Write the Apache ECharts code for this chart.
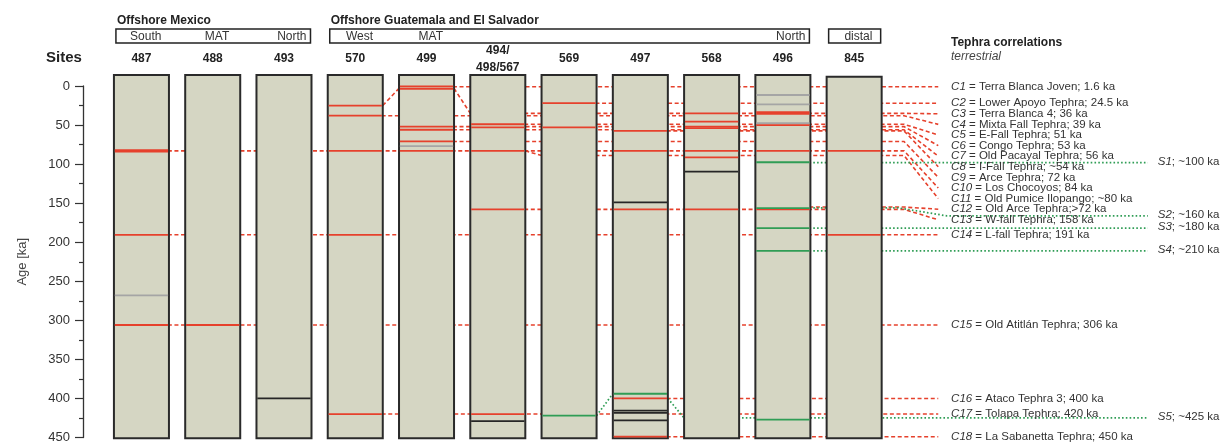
<!DOCTYPE html>
<html><head><meta charset="utf-8">
<script src="https://cdn.jsdelivr.net/npm/echarts@6/dist/echarts.min.js"></script>
<style>html,body{margin:0;padding:0;background:#fff}#c{width:1225px;height:444px}</style>
</head><body><div id="c"></div>
<script>
// ---------------- DATA ----------------
const sites = ['487','488','493','570','499','494/\n498/567','569','497','568','496','845'];
const regions = [['Offshore Mexico',0,2],['Offshore Guatemala and El Salvador',3,9]];
const subRegions = [['South',0,'c'],['MAT',1,'c'],['North',2,'r'],['West',3,'c'],['MAT',4,'c'],['North',9,'r'],['distal',10,'c']];
const subBoxes = [[0,2],[3,9],[10,10]];
const ageTicks = [0,50,100,150,200,250,300,350,400,450];

// tephra layers in cores: [siteIndex, age ka]
const redLayers = [[0,82],[0,84],[0,190.5],[0,306],[1,306],
  [3,25],[3,38],[3,83],[3,190.5],[3,420],
  [4,0.5],[4,3.5],[4,52],[4,56],[4,71],[4,83],
  [5,49],[5,53],[5,83],[5,158],[5,420],
  [6,22],[6,53],
  [7,57.5],[7,83],[7,158],[7,400],[7,449],
  [8,35],[8,45.5],[8,52],[8,54],[8,83],[8,91.5],[8,158],
  [9,33.5],[9,35.5],[9,50],[9,83],[9,158],
  [10,83],[10,190.5]];
const grayLayers = [[0,268],[4,77],[9,11.5],[9,23.4],[9,47.7]];
const greenLayers = [[6,422],[7,394],[9,97.6],[9,156.4],[9,182],[9,211],[9,427]];
const blackLayers = [[2,400],[5,429],[7,149],[7,415.5],[7,418.5],[7,428],[8,109.5]];

// terrestrial tephra correlations
const corrIds = ['C1','C2','C3','C4','C5','C6','C7','C8','C9','C10','C11','C12','C13','C14','C15','C16','C17','C18'];
const corrNames = ['Terra Blanca Joven; 1.6 ka','Lower Apoyo Tephra; 24.5 ka','Terra Blanca 4; 36 ka','Mixta Fall Tephra; 39 ka',
  'E-Fall Tephra; 51 ka','Congo Tephra; 53 ka','Old Pacayal Tephra; 56 ka','I-Fall Tephra; ~54 ka','Arce Tephra; 72 ka',
  'Los Chocoyos; 84 ka','Old Pumice Ilopango; ~80 ka','Old Arce Tephra;>72 ka','W-fall Tephra; 158 ka','L-fall Tephra; 191 ka',
  'Old Atitlán Tephra; 306 ka','Ataco Tephra 3; 400 ka','Tolapa Tephra; 420 ka','La Sabanetta Tephra; 450 ka'];
const corrAges = [1,22,35,38,49,52,56,57.5,71,83,89,155,158,190.5,306,400,420,449];
const corrFromSite = [4,6,5,3,5,4,4,7,4,0,6,9,5,0,0,7,3,7];
// sloping red links: [fromSite, fromAge, toSite, toAge]
const redLinks = [[3,25,4,3],[4,3,5,35],[5,83,6,89]];

// marine (site) correlations
const stratIds = ['S1','S2','S3','S4','S5'];
const stratNames = ['~100 ka','~160 ka','~180 ka','~210 ka','~425 ka'];
const stratAges = [98,156,182,211,425];
const stratFromSite = [9,9,9,9,8];
const greenLinks = [[6,422,7,394],[7,400,8,425]];

// ---------------- LAYOUT / STYLE ----------------
const HALF = 0.386, CORE_TOP = -14, CORE_BOT = 451;
const BEND_X = 10.70, LEAD_X = 11.18, LABEL_X = 11.36, S_END_X = 14.12, S_LABEL_X = 14.26;
const ROW_GAP = 10.6;
const RED = '#e6412c', GREEN = '#2f9d55', GRAY = '#a5a5a5', BLACK = '#262626', FILL = '#d5d6c3';
const FONT = '"Liberation Sans", Arial, sans-serif';
const TXT = '#333';

function corrRows(api){
  const rows=[]; let prev=-1e9;
  corrAges.forEach(a=>{let y=api.coord([0,a])[1]; if(y<prev+ROW_GAP) y=prev+ROW_GAP; rows.push(y); prev=y;});
  return rows;
}
function stratRows(api){
  const nudge=[0,8,0,0,0];
  return stratAges.map((a,k)=>api.coord([0,a])[1]+nudge[k]);
}
const dashRed = {stroke:RED, lineWidth:1.6, lineDash:[4,2.6], fill:null};
const dotGreen = {stroke:GREEN, lineWidth:1.7, lineDash:[1.6,2.2], fill:null};

function layerSeries(data, color, z){
  return {type:'custom', z, clip:false, silent:true, data, encode:{x:0,y:1},
    renderItem(p, api){
      const s=api.value(0), a=api.value(1);
      const l=api.coord([s-HALF+0.012,a]), r=api.coord([s+HALF-0.012,a]);
      return {type:'line', shape:{x1:l[0],y1:l[1],x2:r[0],y2:r[1]}, style:{stroke:color,lineWidth:1.8}};
    }};
}

const chart = echarts.init(document.getElementById('c'), null, {renderer:'canvas'});
const option = {
  animation:false,
  backgroundColor:'#fff',
  grid:{left:83, right:43, top:86, bottom:6},
  xAxis:{type:'value', min:-0.82, max:14.6, show:false},
  yAxis:{type:'value', inverse:true, min:0, max:450, interval:50,
    name:'Age [ka]', nameLocation:'middle', nameGap:54, nameRotate:90,
    nameTextStyle:{color:'#444', fontSize:13, fontFamily:FONT},
    axisLine:{show:true, onZero:false, lineStyle:{color:'#333', width:1.3}},
    axisTick:{show:true, length:8, lineStyle:{color:'#333', width:1.2}},
    minorTick:{show:true, splitNumber:2, length:4, lineStyle:{color:'#333', width:1.2}},
    axisLabel:{margin:13, color:'#333', fontSize:13, fontFamily:FONT,
      formatter:v=>ageTicks.includes(v)?String(v):''},
    splitLine:{show:false}},
  graphic:[
    {type:'text', left:46, top:50, style:{text:'Sites', font:'bold 15px '+FONT, fill:'#222'}},
    {type:'text', left:951, top:37, style:{text:'Tephra correlations', font:'bold 12px '+FONT, fill:'#222'}},
    {type:'text', left:951, top:51, style:{text:'terrestrial', font:'italic 12px '+FONT, fill:'#444'}}
  ],
  series:[
    {type:'custom', z:1, clip:false, silent:true, data:corrAges.map((a,k)=>[k,a]), encode:{x:0,y:1},
      renderItem(p, api){
        const k=p.dataIndex, a=corrAges[k], rows=corrRows(api);
        const s=api.coord([corrFromSite[k],a]), b=api.coord([BEND_X,a]), e=api.coord([LEAD_X,a]);
        return {type:'polyline', shape:{points:[s,b,[e[0],rows[k]]]}, style:dashRed};
      }},
    {type:'custom', z:1, clip:false, silent:true, data:redLinks, encode:{x:0,y:1},
      renderItem(p, api){
        const d=redLinks[p.dataIndex];
        const s=api.coord([d[0]+HALF,d[1]]), e=api.coord([d[2]-HALF,d[3]]);
        return {type:'line', shape:{x1:s[0],y1:s[1],x2:e[0],y2:e[1]}, style:dashRed};
      }},
    {type:'custom', z:1, clip:false, silent:true, data:stratAges.map((a,k)=>[k,a]), encode:{x:0,y:1},
      renderItem(p, api){
        const k=p.dataIndex, a=stratAges[k], rows=stratRows(api);
        const s=api.coord([stratFromSite[k],a]), b=api.coord([10.62,a]), m=api.coord([11.3,a]), e=api.coord([S_END_X,a]);
        return {type:'polyline', shape:{points:[s,b,[m[0],rows[k]],[e[0],rows[k]]]}, style:dotGreen};
      }},
    {type:'custom', z:1, clip:false, silent:true, data:greenLinks, encode:{x:0,y:1},
      renderItem(p, api){
        const d=greenLinks[p.dataIndex];
        const s=api.coord([d[0]+HALF,d[1]]), e=api.coord([d[2]-HALF,d[3]]);
        return {type:'line', shape:{x1:s[0],y1:s[1],x2:e[0],y2:e[1]}, style:dotGreen};
      }},
    {type:'custom', z:2, clip:false, silent:true, data:sites.map((s,i)=>[i,0]), encode:{x:0,y:1},
      renderItem(p, api){
        const i=api.value(0);
        const t=api.coord([i-HALF, i===10?CORE_TOP+2:CORE_TOP]), b=api.coord([i+HALF, CORE_BOT]);
        return {type:'rect', shape:{x:t[0],y:t[1],width:b[0]-t[0],height:b[1]-t[1]},
          style:{fill:FILL, stroke:'#2a2a2a', lineWidth:2}};
      }},
    layerSeries(grayLayers, GRAY, 3),
    layerSeries(redLayers, RED, 3),
    layerSeries(greenLayers, GREEN, 3),
    layerSeries(blackLayers, BLACK, 3),
    {type:'custom', z:5, clip:false, silent:true, data:sites.map((s,i)=>[i,0]), encode:{x:0,y:1},
      renderItem(p, api){
        const i=api.value(0), c=api.coord([i,0]);
        return {type:'text', style:{text:sites[i], x:c[0], y:c[1]-27, align:'center', verticalAlign:'middle',
          font:'bold 12px '+FONT, fill:'#222', lineHeight:17}};
      }},
    {type:'custom', z:5, clip:false, silent:true, data:[[0,0]], encode:{x:0,y:1},
      renderItem(p, api){
        const y0=api.coord([0,0])[1];
        const ch=[];
        regions.forEach(r=>{const c=api.coord([r[1]-HALF,0]);
          ch.push({type:'text', style:{text:r[0], x:c[0]+3, y:y0-65, verticalAlign:'middle', font:'bold 12px '+FONT, fill:'#222'}});});
        subBoxes.forEach(b=>{const l=api.coord([b[0]-HALF,0]), r=api.coord([b[1]+HALF,0]);
          ch.push({type:'rect', shape:{x:l[0]+2,y:y0-57,width:r[0]-l[0]-3,height:14}, style:{fill:'none',stroke:'#222',lineWidth:1.5}});});
        subRegions.forEach(s=>{
          if(s[2]==='c'){const c=api.coord([s[1]+0.06,0]);
            ch.push({type:'text', style:{text:s[0], x:c[0], y:y0-49.5, align:'center', verticalAlign:'middle', font:'12px '+FONT, fill:TXT}});}
          else {const c=api.coord([s[1]+HALF,0]);
            ch.push({type:'text', style:{text:s[0], x:c[0]-5, y:y0-49.5, align:'right', verticalAlign:'middle', font:'12px '+FONT, fill:TXT}});}
        });
        return {type:'group', children:ch};
      }},
    {type:'custom', z:6, clip:false, silent:true, data:corrAges.map((a,k)=>[k,a]), encode:{x:0,y:1},
      renderItem(p, api){
        const k=p.dataIndex, rows=corrRows(api), x=api.coord([LABEL_X,0])[0];
        return {type:'text', style:{text:'{i|'+corrIds[k]+'} = '+corrNames[k], x, y:rows[k], verticalAlign:'middle',
          font:'11.5px '+FONT, fill:TXT, rich:{i:{fontStyle:'italic', fontSize:11.5, fontFamily:FONT, fill:TXT}}}};
      }},
    {type:'custom', z:6, clip:false, silent:true, data:stratAges.map((a,k)=>[k,a]), encode:{x:0,y:1},
      renderItem(p, api){
        const k=p.dataIndex, rows=stratRows(api), x=api.coord([S_LABEL_X,0])[0];
        return {type:'text', style:{text:'{i|'+stratIds[k]+'}; '+stratNames[k], x, y:rows[k]-1, verticalAlign:'middle',
          font:'11.5px '+FONT, fill:TXT, rich:{i:{fontStyle:'italic', fontSize:11.5, fontFamily:FONT, fill:TXT}}}};
      }}
  ]
};
chart.setOption(option);
</script></body></html>
